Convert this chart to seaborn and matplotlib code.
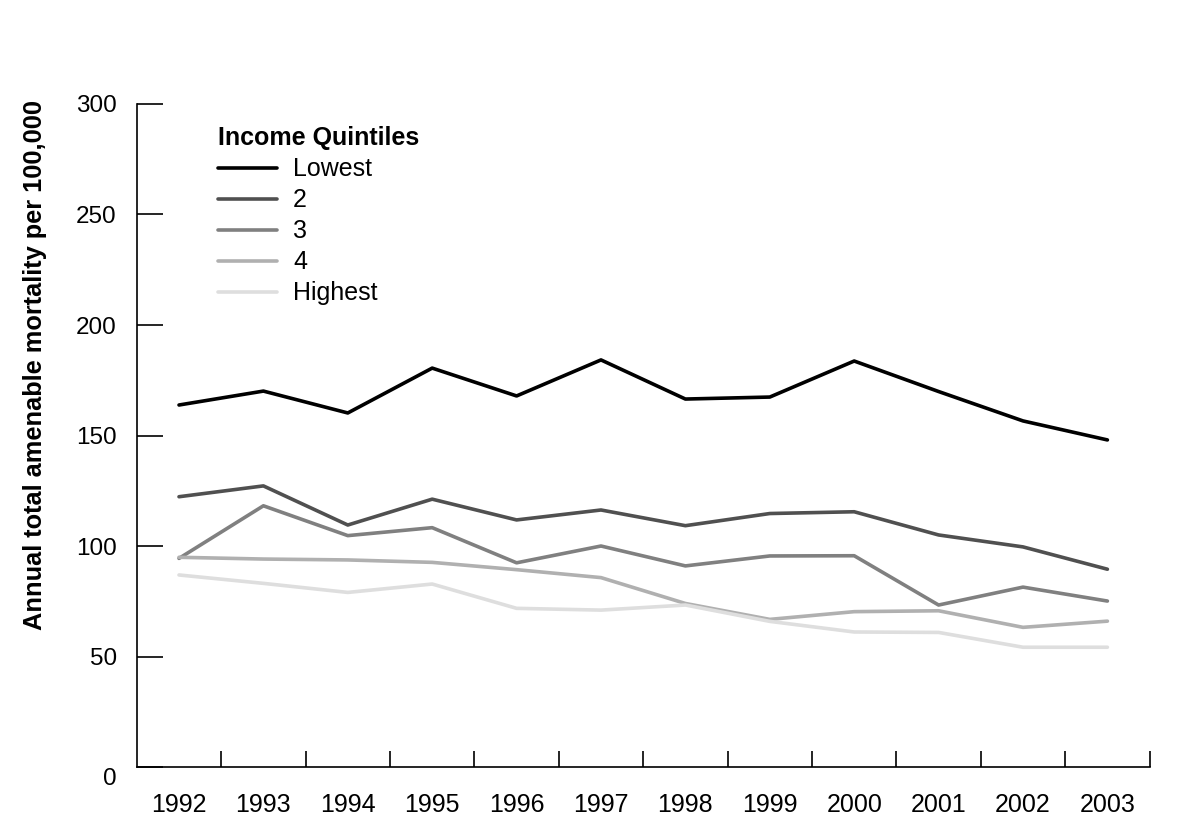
import numpy as np
import pandas as pd
import matplotlib
matplotlib.use("Agg")
import matplotlib.pyplot as plt
import matplotlib.transforms as mtransforms
import seaborn as sns
from matplotlib.ticker import FixedLocator, NullFormatter

# =============================
# DATA
# =============================
years = [1992, 1993, 1994, 1995, 1996, 1997, 1998, 1999, 2000, 2001, 2002, 2003]
quintiles = ["Lowest", "2", "3", "4", "Highest"]

lowest = [163.8, 170.1, 160.2, 180.5, 167.9, 184.2, 166.5, 167.4, 183.7, 169.9, 156.6, 148.0]
q2 = [122.3, 127.2, 109.5, 121.2, 111.8, 116.3, 109.2, 114.7, 115.5, 105.0, 99.6, 89.5]
q3 = [94.4, 118.2, 104.7, 108.3, 92.4, 100.0, 91.0, 95.5, 95.6, 73.3, 81.4, 75.1]
q4 = [94.9, 94.1, 93.7, 92.6, 89.3, 85.7, 74.0, 66.8, 70.3, 70.7, 63.2, 66.0]
highest = [86.9, 83.1, 79.0, 82.8, 71.8, 71.0, 73.3, 65.9, 61.1, 60.9, 54.2, 54.2]

colors = ["#000000", "#505050", "#808080", "#b0b0b0", "#dedede"]

df = pd.DataFrame({
    "year": years * 5,
    "rate": lowest + q2 + q3 + q4 + highest,
    "quintile": [q for q in quintiles for _ in years],
})

# =============================
# STYLE
# =============================
sns.set_style("ticks")
plt.rcParams["font.family"] = ["Liberation Sans", "DejaVu Sans"]
plt.rcParams["text.color"] = "black"
plt.rcParams["xtick.color"] = "black"
plt.rcParams["ytick.color"] = "black"
plt.rcParams["axes.labelcolor"] = "black"
plt.rcParams["axes.edgecolor"] = "black"

fig = plt.figure(figsize=(12, 8.26), dpi=100)
ax = fig.add_axes([0.114, 0.0714, 0.844, 0.8027])

sns.lineplot(
    data=df, x="year", y="rate", hue="quintile",
    hue_order=quintiles, palette=colors,
    linewidth=2.6, ax=ax
)

# =============================
# AXES
# =============================
ax.set_xlim(1991.5, 2003.5)
ax.set_ylim(0, 300)

ax.xaxis.set_major_locator(FixedLocator([y + 0.5 for y in years]))
ax.xaxis.set_major_formatter(NullFormatter())
ax.xaxis.set_minor_locator(FixedLocator(years))
ax.set_xticklabels([str(y) for y in years], minor=True)
ax.tick_params(axis="x", which="major", direction="in", length=11.5, width=1.2)
ax.tick_params(axis="x", which="minor", length=0, pad=19, labelsize=18)

ax.set_yticks([0, 50, 100, 150, 200, 250, 300])
ax.tick_params(axis="y", direction="in", length=19, width=1.2, pad=14.5, labelsize=17.5)

# the "0" label sits a little below the axis line in the original
zero_lbl = ax.get_yticklabels()[0]
zero_lbl.set_transform(zero_lbl.get_transform()
                       + mtransforms.ScaledTranslation(0, -9 / 100, fig.dpi_scale_trans))

for side in ["top", "right"]:
    ax.spines[side].set_visible(False)
for side in ["left", "bottom"]:
    ax.spines[side].set_linewidth(1.2)

ax.set_xlabel("")
ax.set_ylabel("Annual total amenable mortality per 100,000",
              fontsize=18.3, fontweight="bold")
ax.yaxis.set_label_coords(-0.089, 0.606)

leg = ax.legend(
    title="Income Quintiles", loc="upper left",
    bbox_to_anchor=(0.058, 1.0), frameon=False,
    fontsize=18, title_fontproperties={"weight": "bold", "size": 18},
    handlelength=2.36, handletextpad=0.64, labelspacing=0.28,
    alignment="left"
)

fig.savefig("out.png", dpi=100)
